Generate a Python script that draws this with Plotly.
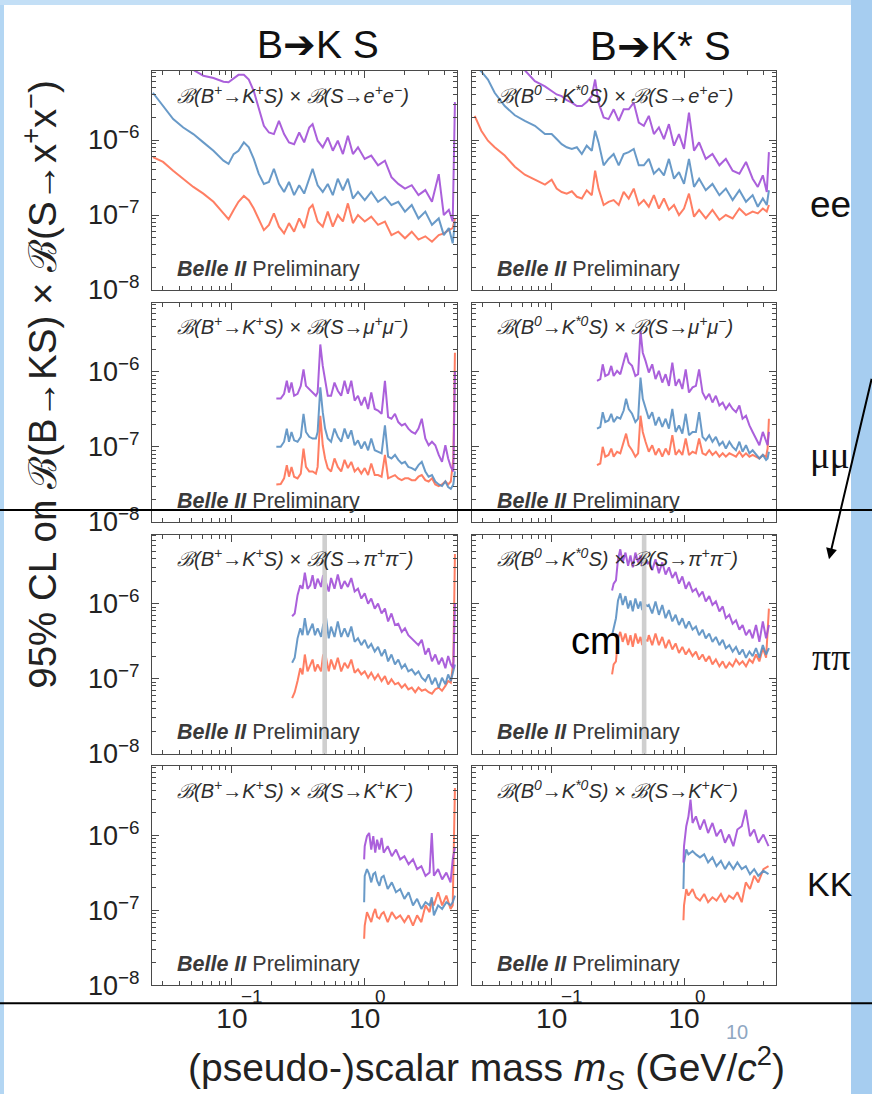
import plotly.graph_objects as go

W, H = 872, 1109

# ---------------- 95% CL upper limits vs. scalar mass (GeV/c^2) ----------------
# three curves per channel: purple (weakest), blue, red (strongest)

# B -> K S, S -> e+ e-
m_ee_K = [0.0254, 0.0303, 0.0361, 0.0430, 0.0512, 0.0609, 0.0726, 0.0864, 0.0943, 0.103,
          0.112, 0.123, 0.134, 0.146, 0.159, 0.174, 0.190, 0.207, 0.226, 0.247,
          0.269, 0.294, 0.321, 0.350, 0.382, 0.405, 0.442, 0.483, 0.527, 0.575,
          0.627, 0.685, 0.747, 0.815, 0.890, 1.00, 1.12, 1.26, 1.42, 1.59,
          1.79, 2.01, 2.26, 2.54, 2.86, 3.21, 3.61, 3.94, 4.30, 4.60, 4.78]
ee_K_purple = [1.6e-5, 1.4e-5, 1.25e-5, 1.1e-5, 8.6e-6, 7.2e-6, 6.7e-6, 6.0e-6, 5.9e-6, 6.7e-6,
               7.4e-6, 7.4e-6, 6.4e-6, 4.5e-6, 2.57e-6, 1.55e-6, 1.26e-6, 1.2e-6, 1.8e-6, 1.2e-6,
               9.3e-7, 8.8e-7, 1.26e-6, 9.3e-7, 1.47e-6, 1.63e-6, 9.8e-7, 8.0e-7, 1.08e-6, 7.2e-7,
               9.8e-7, 6.5e-7, 1.14e-6, 6.5e-7, 8.0e-7, 5.6e-7, 6.2e-7, 4.6e-7, 5.3e-7, 3.2e-7,
               2.6e-7, 2.25e-7, 2.5e-7, 1.84e-7, 2.15e-7, 1.5e-7, 3.5e-7, 1.0e-7, 1.17e-7, 8.2e-8, 3.2e-6]
ee_K_blue = [4.27e-6, 2.84e-6, 1.9e-6, 1.47e-6, 1.2e-6, 9.3e-7, 7.2e-7, 5.3e-7, 4.8e-7, 6.5e-7,
             7.2e-7, 9.3e-7, 8.0e-7, 5.6e-7, 3.56e-7, 2.6e-7, 2.76e-7, 4.14e-7, 2.6e-7, 2.03e-7,
             2.76e-7, 1.84e-7, 2.49e-7, 1.93e-7, 3.05e-7, 4.14e-7, 2.49e-7, 2.03e-7, 2.6e-7, 1.84e-7,
             3.05e-7, 2.14e-7, 3.05e-7, 1.66e-7, 2.03e-7, 1.58e-7, 2.03e-7, 1.5e-7, 1.75e-7, 1.36e-7,
             1.5e-7, 1.11e-7, 1.36e-7, 9.0e-8, 1.11e-7, 7.4e-8, 9.0e-8, 5.4e-8, 6.7e-8, 4.2e-8, 8.2e-8]
ee_K_red = [5.9e-7, 5.1e-7, 3.9e-7, 3.05e-7, 2.37e-7, 1.93e-7, 1.5e-7, 1.05e-7, 8.8e-8, 1.17e-7,
            1.5e-7, 1.8e-7, 1.58e-7, 1.22e-7, 9.0e-8, 6.3e-8, 7.4e-8, 1.05e-7, 7.0e-8, 5.7e-8,
            7.8e-8, 6.0e-8, 9.0e-8, 6.7e-8, 1.22e-7, 1.36e-7, 8.2e-8, 7.0e-8, 1.11e-7, 7.0e-8,
            1.0e-7, 8.2e-8, 1.43e-7, 7.8e-8, 1.0e-7, 8.2e-8, 9.5e-8, 7.4e-8, 8.2e-8, 5.4e-8,
            6.0e-8, 4.9e-8, 6.0e-8, 4.7e-8, 5.2e-8, 4.4e-8, 5.4e-8, 5.7e-8, 6.3e-8, 6.7e-8, 9.0e-8]

# B -> K* S, S -> e+ e-
m_ee_Ks = [0.0262, 0.0294, 0.0330, 0.0371, 0.0442, 0.0527, 0.0627, 0.0747, 0.0890, 0.100,
           0.109, 0.119, 0.130, 0.142, 0.155, 0.169, 0.184, 0.201, 0.213, 0.226,
           0.247, 0.269, 0.294, 0.321, 0.350, 0.382, 0.417, 0.455, 0.497, 0.542,
           0.592, 0.646, 0.705, 0.769, 0.840, 0.916, 1.00, 1.09, 1.19, 1.30,
           1.46, 1.64, 1.85, 2.07, 2.33, 2.62, 2.94, 3.30, 3.61, 3.94, 4.22, 4.38]
ee_Ks_purple = [2.0e-5, 1.8e-5, 1.6e-5, 1.4e-5, 1.2e-5, 1.0e-5, 8.5e-6, 6.1e-6, 5.2e-6, 4.5e-6,
                4.05e-6, 3.85e-6, 3.4e-6, 3.15e-6, 2.84e-6, 2.84e-6, 3.2e-6, 3.85e-6, 6.4e-6, 3.15e-6,
                2.0e-6, 1.9e-6, 2.57e-6, 1.8e-6, 2.57e-6, 2.57e-6, 3.15e-6, 1.71e-6, 1.55e-6, 2.1e-6,
                1.2e-6, 1.47e-6, 1.03e-6, 1.63e-6, 8.4e-7, 1.2e-6, 7.6e-7, 2.32e-6, 7.2e-7, 9.3e-7,
                5.6e-7, 6.5e-7, 4.6e-7, 5.6e-7, 3.9e-7, 3.56e-7, 5.1e-7, 3.05e-7, 2.37e-7, 3.38e-7, 2.03e-7, 6.9e-7]
ee_Ks_blue = [1.0e-5, 8.2e-6, 6.4e-6, 4.27e-6, 2.84e-6, 2.14e-6, 1.8e-6, 1.55e-6, 1.2e-6, 1.2e-6,
              1.03e-6, 8.8e-7, 8.0e-7, 7.6e-7, 8.0e-7, 6.5e-7, 8.4e-7, 7.2e-7, 1.33e-6, 9.3e-7,
              4.6e-7, 5.6e-7, 6.5e-7, 4.6e-7, 6.5e-7, 6.9e-7, 7.6e-7, 4.6e-7, 4.6e-7, 5.6e-7,
              3.56e-7, 4.14e-7, 3.38e-7, 5.6e-7, 3.05e-7, 3.74e-7, 2.6e-7, 5.6e-7, 2.37e-7, 3.05e-7,
              2.14e-7, 2.6e-7, 1.84e-7, 2.25e-7, 1.58e-7, 2.14e-7, 1.5e-7, 1.84e-7, 1.29e-7, 1.66e-7, 1.36e-7, 2.14e-7]
ee_Ks_red = [2.1e-6, 1.33e-6, 9.8e-7, 8.0e-7, 6.2e-7, 4.4e-7, 3.45e-7, 3.0e-7, 2.55e-7, 2.95e-7,
             2.25e-7, 2.03e-7, 1.93e-7, 2.07e-7, 1.75e-7, 1.66e-7, 2.14e-7, 1.84e-7, 3.9e-7, 2.25e-7,
             1.36e-7, 1.5e-7, 1.58e-7, 1.36e-7, 2.03e-7, 1.66e-7, 2.25e-7, 1.36e-7, 1.58e-7, 1.29e-7,
             1.84e-7, 1.22e-7, 1.66e-7, 1.17e-7, 1.36e-7, 1.0e-7, 1.22e-7, 1.93e-7, 9.5e-8, 1.17e-7,
             9.0e-8, 1.17e-7, 8.6e-8, 1.0e-7, 9.0e-8, 1.22e-7, 1.0e-7, 1.11e-7, 1.05e-7, 1.22e-7, 1.11e-7, 1.36e-7]

# B -> K S, S -> mu+ mu-
m_mm_K = [0.216, 0.233, 0.247, 0.259, 0.269, 0.281, 0.294, 0.312, 0.330, 0.346,
          0.361, 0.382, 0.405, 0.429, 0.442, 0.463, 0.483, 0.503, 0.527, 0.558,
          0.592, 0.627, 0.665, 0.705, 0.747, 0.792, 0.840, 0.890, 0.943, 1.00,
          1.06, 1.12, 1.19, 1.26, 1.34, 1.42, 1.50, 1.59, 1.69, 1.79,
          1.90, 2.01, 2.13, 2.26, 2.40, 2.54, 2.69, 2.86, 3.03, 3.21,
          3.40, 3.61, 3.82, 4.05, 4.25, 4.45, 4.65, 4.78]
mm_K_purple = [4.4e-7, 4.4e-7, 5.1e-7, 7.6e-7, 5.3e-7, 7.2e-7, 4.8e-7, 5.1e-7, 6.5e-7, 1.08e-6,
               6.5e-7, 5.9e-7, 5.3e-7, 4.8e-7, 5.3e-7, 2.32e-6, 1.2e-6, 7.6e-7, 4.8e-7, 4.8e-7,
               7.2e-7, 5.6e-7, 4.8e-7, 7.6e-7, 5.1e-7, 7.6e-7, 4.14e-7, 4.8e-7, 3.56e-7, 4.6e-7,
               3.2e-7, 5.3e-7, 3.2e-7, 3.05e-7, 2.76e-7, 7.6e-7, 2.49e-7, 2.37e-7, 2.76e-7, 2.14e-7,
               1.93e-7, 2.03e-7, 1.75e-7, 1.58e-7, 1.5e-7, 1.75e-7, 2.37e-7, 1.29e-7, 1.05e-7, 1.17e-7,
               1.05e-7, 7.8e-8, 6.3e-8, 1.05e-7, 7.0e-8, 5.4e-8, 4.7e-8, 1.0e-6]
mm_K_blue = [1.0e-7, 1.0e-7, 1.17e-7, 1.75e-7, 1.17e-7, 1.58e-7, 1.22e-7, 1.17e-7, 1.36e-7, 2.76e-7,
             1.58e-7, 1.36e-7, 1.29e-7, 1.29e-7, 1.58e-7, 6.2e-7, 2.9e-7, 1.75e-7, 1.29e-7, 1.17e-7,
             1.75e-7, 1.36e-7, 1.17e-7, 1.75e-7, 1.29e-7, 1.66e-7, 1.05e-7, 1.22e-7, 9.5e-8, 1.17e-7,
             9.0e-8, 1.29e-7, 9.0e-8, 8.6e-8, 8.2e-8, 1.93e-7, 7.4e-8, 7.0e-8, 7.8e-8, 6.7e-8,
             6.0e-8, 6.3e-8, 5.4e-8, 5.2e-8, 4.9e-8, 5.7e-8, 6.3e-8, 4.7e-8, 4.0e-8, 4.2e-8,
             3.45e-8, 3.15e-8, 3.0e-8, 3.45e-8, 2.9e-8, 2.75e-8, 3.15e-8, 4.7e-8]
mm_K_red = [3.15e-8, 3.2e-8, 3.8e-8, 5.7e-8, 4.0e-8, 5.4e-8, 4.0e-8, 3.8e-8, 4.4e-8, 9.5e-8,
            5.4e-8, 4.7e-8, 4.7e-8, 4.4e-8, 5.4e-8, 2.6e-7, 1.05e-7, 7.0e-8, 5.2e-8, 4.7e-8,
            7.0e-8, 5.4e-8, 4.7e-8, 6.7e-8, 5.2e-8, 6.3e-8, 4.7e-8, 5.2e-8, 4.4e-8, 5.2e-8,
            4.2e-8, 6.0e-8, 4.2e-8, 4.2e-8, 4.0e-8, 7.8e-8, 3.8e-8, 4.0e-8, 4.2e-8, 3.8e-8,
            3.6e-8, 3.8e-8, 3.8e-8, 3.6e-8, 3.6e-8, 4.0e-8, 4.2e-8, 3.6e-8, 3.45e-8, 3.8e-8,
            3.15e-8, 3.0e-8, 3.15e-8, 3.45e-8, 3.15e-8, 3.45e-8, 7.0e-8, 1.8e-6]

# B -> K* S, S -> mu+ mu-
m_mm_Ks = [0.220, 0.233, 0.243, 0.254, 0.269, 0.282, 0.294, 0.312, 0.330, 0.350,
           0.365, 0.382, 0.405, 0.429, 0.450, 0.469, 0.488, 0.512, 0.542, 0.575,
           0.609, 0.646, 0.685, 0.726, 0.769, 0.816, 0.864, 0.916, 0.971, 1.03,
           1.09, 1.16, 1.23, 1.30, 1.38, 1.46, 1.55, 1.64, 1.74, 1.85,
           1.96, 2.07, 2.20, 2.33, 2.47, 2.62, 2.77, 2.94, 3.12, 3.30,
           3.50, 3.71, 3.94, 4.17, 4.28, 4.38]
mm_Ks_purple = [7.6e-7, 8.0e-7, 1.26e-6, 8.8e-7, 9.3e-7, 1.2e-6, 8.8e-7, 1.03e-6, 9.3e-7, 1.33e-6,
                1.8e-6, 1.33e-6, 1.2e-6, 8.8e-7, 9.3e-7, 3.48e-6, 1.8e-6, 1.4e-6, 9.8e-7, 1.26e-6,
                8.0e-7, 1.03e-6, 7.2e-7, 9.3e-7, 6.5e-7, 1.33e-6, 6.5e-7, 8.0e-7, 5.9e-7, 1.08e-6,
                5.3e-7, 6.2e-7, 6.5e-7, 1.08e-6, 5.3e-7, 4.37e-7, 5.1e-7, 3.9e-7, 4.8e-7, 3.56e-7,
                3.9e-7, 3.2e-7, 3.74e-7, 3.2e-7, 2.9e-7, 3.56e-7, 2.37e-7, 2.6e-7, 1.93e-7, 1.58e-7,
                1.29e-7, 1.05e-7, 1.58e-7, 1.17e-7, 1.05e-7, 1.58e-7]
mm_Ks_blue = [1.75e-7, 1.84e-7, 2.9e-7, 2.14e-7, 2.25e-7, 2.76e-7, 2.14e-7, 2.49e-7, 2.37e-7, 3.05e-7,
              4.37e-7, 3.2e-7, 2.76e-7, 2.14e-7, 2.37e-7, 8.4e-7, 4.37e-7, 3.2e-7, 2.37e-7, 2.9e-7,
              1.93e-7, 2.49e-7, 1.84e-7, 2.37e-7, 1.75e-7, 3.2e-7, 1.58e-7, 1.93e-7, 1.5e-7, 2.76e-7,
              1.43e-7, 1.58e-7, 1.58e-7, 2.9e-7, 1.36e-7, 1.22e-7, 1.43e-7, 1.17e-7, 1.36e-7, 1.05e-7,
              1.17e-7, 9.5e-8, 1.17e-7, 1.0e-7, 9.0e-8, 1.17e-7, 8.6e-8, 1.05e-7, 8.2e-8, 9.0e-8,
              7.8e-8, 7.0e-8, 7.8e-8, 6.7e-8, 7.0e-8, 8.6e-8]
mm_Ks_red = [5.7e-8, 6.0e-8, 1.0e-7, 7.4e-8, 7.8e-8, 9.5e-8, 7.4e-8, 8.6e-8, 8.2e-8, 1.17e-7,
             1.5e-7, 1.05e-7, 9.0e-8, 7.4e-8, 8.2e-8, 2.6e-7, 1.58e-7, 1.17e-7, 8.6e-8, 1.05e-7,
             7.8e-8, 9.5e-8, 7.4e-8, 9.5e-8, 7.8e-8, 1.43e-7, 7.8e-8, 9.0e-8, 7.8e-8, 1.29e-7,
             7.8e-8, 8.6e-8, 8.2e-8, 1.29e-7, 8.2e-8, 7.8e-8, 9.0e-8, 7.8e-8, 8.6e-8, 7.4e-8,
             8.2e-8, 7.4e-8, 8.2e-8, 7.8e-8, 7.4e-8, 8.6e-8, 7.4e-8, 8.2e-8, 7.4e-8, 7.8e-8,
             7.4e-8, 7.0e-8, 7.8e-8, 7.4e-8, 9.5e-8, 2.37e-7]

# B -> K S, S -> pi+ pi-
m_pp_K = [0.284, 0.297, 0.312, 0.327, 0.340, 0.354, 0.371, 0.389, 0.405, 0.422,
          0.442, 0.469, 0.486, 0.512, 0.536, 0.558, 0.592, 0.627, 0.665, 0.705,
          0.747, 0.792, 0.840, 0.890, 0.943, 1.00, 1.06, 1.12, 1.19, 1.26,
          1.34, 1.42, 1.50, 1.59, 1.69, 1.79, 1.90, 2.01, 2.13, 2.26,
          2.40, 2.54, 2.69, 2.86, 3.03, 3.21, 3.40, 3.61, 3.82, 4.05,
          4.25, 4.45, 4.65, 4.78]
pp_K_purple = [6.8e-7, 7.4e-7, 1.3e-6, 1.76e-6, 1.58e-6, 2.6e-6, 1.58e-6, 1.76e-6, 2.4e-6, 1.58e-6,
               2.15e-6, 1.67e-6, 2.4e-6, 1.9e-6, 1.45e-6, 2.2e-6, 1.58e-6, 2.45e-6, 1.58e-6, 2.0e-6,
               1.67e-6, 2.2e-6, 1.45e-6, 1.58e-6, 1.17e-6, 1.37e-6, 1.0e-6, 1.17e-6, 8.6e-7, 1.0e-6,
               7.4e-7, 8.6e-7, 5.8e-7, 7.4e-7, 5.2e-7, 5.4e-7, 4.2e-7, 4.7e-7, 3.8e-7, 3.45e-7,
               3.1e-7, 2.8e-7, 3.3e-7, 2.1e-7, 2.55e-7, 1.7e-7, 2.1e-7, 1.55e-7, 1.9e-7, 1.38e-7,
               2.0e-7, 1.55e-7, 1.38e-7, 1.0e-6]
pp_K_blue = [1.63e-7, 1.9e-7, 3.45e-7, 4.7e-7, 3.8e-7, 6.4e-7, 3.8e-7, 4.7e-7, 5.4e-7, 3.8e-7,
             4.7e-7, 3.6e-7, 5.2e-7, 6.4e-7, 3.45e-7, 4.95e-7, 3.6e-7, 5.8e-7, 3.6e-7, 4.7e-7,
             3.6e-7, 4.95e-7, 3.1e-7, 3.45e-7, 2.8e-7, 3.3e-7, 2.55e-7, 2.9e-7, 2.3e-7, 2.65e-7,
             2.0e-7, 2.45e-7, 1.7e-7, 2.1e-7, 1.55e-7, 1.8e-7, 1.38e-7, 1.55e-7, 1.25e-7, 1.33e-7,
             1.14e-7, 1.25e-7, 1.03e-7, 9.3e-8, 1.14e-7, 8.4e-8, 1.03e-7, 7.6e-8, 1.03e-7, 8.4e-8,
             1.14e-7, 9.3e-8, 1.25e-7, 1.55e-7]
pp_K_red = [5.5e-8, 6.6e-8, 9.3e-8, 1.38e-7, 1.14e-7, 2.1e-7, 1.25e-7, 1.55e-7, 1.8e-7, 1.25e-7,
            1.55e-7, 1.25e-7, 2.1e-7, 1.9e-7, 1.25e-7, 1.8e-7, 1.33e-7, 1.9e-7, 1.25e-7, 1.63e-7,
            1.38e-7, 1.8e-7, 1.2e-7, 1.33e-7, 1.14e-7, 1.25e-7, 1.03e-7, 1.2e-7, 9.8e-8, 1.14e-7,
            9.3e-8, 1.08e-7, 8.4e-8, 9.8e-8, 8.4e-8, 8.8e-8, 7.6e-8, 8.4e-8, 7.2e-8, 7.6e-8,
            6.6e-8, 7.6e-8, 6.9e-8, 7.2e-8, 6.6e-8, 6.3e-8, 7.2e-8, 7.6e-8, 6.9e-8, 8.0e-8,
            9.3e-8, 8.8e-8, 1.7e-7, 4.6e-6]

# B -> K* S, S -> pi+ pi-
m_pp_Ks = [0.286, 0.294, 0.306, 0.317, 0.330, 0.344, 0.361, 0.378, 0.394, 0.410,
           0.429, 0.450, 0.469, 0.483, 0.506, 0.530, 0.542, 0.575, 0.609, 0.646,
           0.685, 0.726, 0.769, 0.816, 0.864, 0.916, 0.971, 1.03, 1.09, 1.16,
           1.23, 1.30, 1.38, 1.46, 1.55, 1.64, 1.74, 1.85, 1.96, 2.07,
           2.20, 2.33, 2.47, 2.62, 2.77, 2.94, 3.12, 3.30, 3.50, 3.71,
           3.94, 4.17, 4.38]
pp_Ks_purple = [1.5e-6, 1.85e-6, 2.05e-6, 3.9e-6, 5.3e-6, 3.55e-6, 4.8e-6, 3.2e-6, 4.4e-6, 3.05e-6,
                4.8e-6, 3.55e-6, 4.4e-6, 3.2e-6, 3.8e-6, 3.45e-6, 3.55e-6, 2.8e-6, 3.9e-6, 2.55e-6,
                3.55e-6, 2.45e-6, 3.05e-6, 2.2e-6, 2.65e-6, 1.85e-6, 2.3e-6, 1.58e-6, 1.95e-6, 1.45e-6,
                1.58e-6, 1.26e-6, 1.45e-6, 1.07e-6, 1.26e-6, 9.6e-7, 1.07e-6, 7.9e-7, 9.2e-7, 6.4e-7,
                7.1e-7, 5.4e-7, 6.0e-7, 4.5e-7, 5.2e-7, 3.8e-7, 4.5e-7, 3.45e-7, 5.2e-7, 3.1e-7,
                5.8e-7, 3.45e-7, 5.2e-7]
pp_Ks_blue = [3.8e-7, 4.7e-7, 6.4e-7, 1.1e-6, 1.37e-6, 9.6e-7, 1.26e-6, 8.6e-7, 1.1e-6, 7.9e-7,
              1.17e-6, 8.6e-7, 1.07e-6, 8.2e-7, 9.8e-7, 9.3e-7, 9.6e-7, 7.4e-7, 1.07e-6, 7.1e-7,
              9.6e-7, 6.4e-7, 8.2e-7, 5.8e-7, 7.1e-7, 5.2e-7, 6.4e-7, 4.7e-7, 5.8e-7, 4.5e-7,
              4.95e-7, 3.8e-7, 4.5e-7, 3.45e-7, 4.0e-7, 3.1e-7, 3.6e-7, 2.8e-7, 3.3e-7, 2.55e-7,
              2.8e-7, 2.3e-7, 2.65e-7, 2.1e-7, 2.45e-7, 1.9e-7, 2.3e-7, 2.0e-7, 2.55e-7, 1.9e-7,
              2.8e-7, 2.1e-7, 2.55e-7]
pp_Ks_red = [1.14e-7, 1.55e-7, 1.7e-7, 3.45e-7, 4.2e-7, 3.1e-7, 4.0e-7, 2.8e-7, 3.8e-7, 2.65e-7,
             4.0e-7, 2.95e-7, 3.6e-7, 2.8e-7, 3.3e-7, 3.2e-7, 3.8e-7, 2.8e-7, 4.0e-7, 2.8e-7,
             3.6e-7, 2.55e-7, 3.3e-7, 2.45e-7, 2.95e-7, 2.2e-7, 2.65e-7, 2.1e-7, 2.45e-7, 2.0e-7,
             2.3e-7, 1.8e-7, 2.1e-7, 1.7e-7, 2.0e-7, 1.55e-7, 1.8e-7, 1.46e-7, 1.7e-7, 1.38e-7,
             1.63e-7, 1.46e-7, 1.8e-7, 1.55e-7, 1.7e-7, 1.46e-7, 1.8e-7, 1.63e-7, 2.1e-7, 1.7e-7,
             2.55e-7, 1.9e-7, 8.6e-7]

# B -> K S, S -> K+ K-
m_KK_K = [0.990, 1.00, 1.04, 1.08, 1.12, 1.16, 1.20, 1.24, 1.29, 1.34,
          1.39, 1.49, 1.60, 1.72, 1.85, 1.99, 2.14, 2.31, 2.48, 2.67,
          2.87, 3.08, 3.20, 3.32, 3.57, 3.83, 4.12, 4.43, 4.60, 4.78]
KK_K_purple = [4.8e-7, 7.2e-7, 9.8e-7, 1.08e-6, 6.5e-7, 9.8e-7, 5.9e-7, 8.8e-7, 6.5e-7, 9.3e-7,
               5.9e-7, 7.2e-7, 5.3e-7, 6.5e-7, 4.8e-7, 5.3e-7, 4.14e-7, 4.8e-7, 3.56e-7, 3.9e-7,
               2.9e-7, 3.2e-7, 1.08e-6, 2.9e-7, 3.56e-7, 2.6e-7, 3.2e-7, 2.37e-7, 4.8e-7, 7.0e-7]
KK_K_blue = [1.29e-7, 2.9e-7, 3.56e-7, 3.05e-7, 2.37e-7, 3.05e-7, 3.2e-7, 2.49e-7, 2.14e-7, 2.76e-7,
             2.9e-7, 1.93e-7, 2.37e-7, 1.75e-7, 1.93e-7, 1.43e-7, 1.75e-7, 1.17e-7, 1.43e-7, 1.05e-7,
             1.29e-7, 1.17e-7, 1.5e-7, 8.6e-8, 1.17e-7, 1.05e-7, 1.29e-7, 1.17e-7, 1.29e-7, 1.58e-7]
KK_K_red = [4.2e-8, 6.3e-8, 9.5e-8, 8.2e-8, 7.0e-8, 9.0e-8, 1.05e-7, 8.2e-8, 7.8e-8, 9.0e-8,
            9.5e-8, 7.0e-8, 9.5e-8, 7.8e-8, 8.6e-8, 7.0e-8, 8.6e-8, 6.3e-8, 8.6e-8, 7.0e-8,
            1.17e-7, 9.5e-8, 1.36e-7, 1.17e-7, 1.75e-7, 1.17e-7, 1.58e-7, 1.05e-7, 1.17e-7, 4.3e-6]

# B -> K* S, S -> K+ K-
m_KK_Ks = [0.990, 1.00, 1.04, 1.08, 1.12, 1.16, 1.23, 1.32, 1.42, 1.52,
           1.64, 1.76, 1.90, 2.04, 2.19, 2.36, 2.53, 2.73, 2.93, 3.15,
           3.39, 3.64, 3.98, 4.35]
KK_Ks_purple = [4.37e-7, 7.2e-7, 1.33e-6, 1.8e-6, 3.0e-6, 1.47e-6, 1.8e-6, 1.2e-6, 1.63e-6, 1.08e-6,
                1.47e-6, 9.8e-7, 1.2e-6, 8.0e-7, 1.03e-6, 7.2e-7, 1.2e-6, 1.33e-6, 2.2e-6, 9.8e-7,
                1.2e-6, 8.0e-7, 1.03e-6, 7.2e-7]
KK_Ks_blue = [1.93e-7, 4.37e-7, 6.5e-7, 5.6e-7, 5.9e-7, 6.2e-7, 5.6e-7, 5.1e-7, 5.6e-7, 4.37e-7,
              5.1e-7, 3.9e-7, 4.6e-7, 3.56e-7, 4.37e-7, 3.56e-7, 4.37e-7, 3.56e-7, 3.9e-7, 3.05e-7,
              3.56e-7, 2.9e-7, 3.38e-7, 3.05e-7]
KK_Ks_red = [7.4e-8, 1.17e-7, 1.93e-7, 1.58e-7, 1.75e-7, 1.93e-7, 1.5e-7, 1.36e-7, 1.66e-7, 1.29e-7,
             1.5e-7, 1.36e-7, 1.66e-7, 1.29e-7, 1.58e-7, 1.43e-7, 1.75e-7, 1.29e-7, 2.37e-7, 1.93e-7,
             2.9e-7, 2.37e-7, 3.56e-7, 3.9e-7]

# K_S veto window in the pi+ pi- channel (GeV)
KS_VETO = [0.48, 0.52]

PARENT = ["ℬ(B<sup>+</sup>→K<sup>+</sup>S)", "ℬ(B<sup>0</sup>→K<sup>*0</sup>S)"]
FINAL = ["e<sup>+</sup>e<sup>−</sup>", "μ<sup>+</sup>μ<sup>−</sup>",
         "π<sup>+</sup>π<sup>−</sup>", "K<sup>+</sup>K<sup>−</sup>"]

panels = [
    (0, 0, m_ee_K, ee_K_purple, ee_K_blue, ee_K_red),
    (0, 1, m_ee_Ks, ee_Ks_purple, ee_Ks_blue, ee_Ks_red),
    (1, 0, m_mm_K, mm_K_purple, mm_K_blue, mm_K_red),
    (1, 1, m_mm_Ks, mm_Ks_purple, mm_Ks_blue, mm_Ks_red),
    (2, 0, m_pp_K, pp_K_purple, pp_K_blue, pp_K_red),
    (2, 1, m_pp_Ks, pp_Ks_purple, pp_Ks_blue, pp_Ks_red),
    (3, 0, m_KK_K, KK_K_purple, KK_K_blue, KK_K_red),
    (3, 1, m_KK_Ks, KK_Ks_purple, KK_Ks_blue, KK_Ks_red),
]

PURPLE, BLUE, RED = "#a24fd8", "#5990c3", "#ff7153"

# ---------------- geometry (pixels) ----------------
COLS = [(152, 457), (472, 776)]
ROW_TOP = [72, 307, 542, 777]
ROW_H = 222
XRANGE = [-1.602, 0.695]
YRANGE = [-8, -5.08]


def fx(px):
    return px / W


def fy(py):
    return 1 - py / H


# x decades: mantissa "10" as the axis tick label, exponent set above it
x_major = [0.1, 1.0]
x_major_text = ["10", "10"]
x_exponent = [(-1, "−1", 20), (0, "0", 16)]  # (log10 position, exponent, pixel offset)
x_minor = [d * 0.01 for d in range(3, 10)] + [d * 0.1 for d in range(2, 10)] + [2.0, 3.0, 4.0]
y_major = [1e-8, 1e-7, 1e-6]
y_major_text = ["10<sup>−8</sup>", "10<sup>−7</sup>", "10<sup>−6</sup>"]
y_minor = [d * 10.0 ** e for e in (-8, -7, -6) for d in range(2, 10)]

FRAME = "#4a4a4a"
TXT = "Liberation Sans, Arial"
fig = go.Figure()
layout = dict(
    width=W, height=H, autosize=False,
    margin=dict(l=0, r=0, t=0, b=0),
    paper_bgcolor="white", plot_bgcolor="white",
    showlegend=False,
)
shapes, annotations = [], []

# blue slide border around the white page
for (x0, x1, y0, y1, col) in [(0, 4, 0, H, "#b3d6f3"), (0, W, 0, 5, "#c3dff6"), (851, W, 0, H, "#a6cdf0")]:
    shapes.append(dict(type="rect", xref="paper", yref="paper", x0=fx(x0), x1=fx(x1),
                       y0=fy(y1), y1=fy(y0), fillcolor=col, line=dict(width=0), layer="below"))

for k, (r, c, m, yp, yb, yr) in enumerate(panels, start=1):
    xs = "" if k == 1 else str(k)
    x0, x1 = COLS[c]
    top = ROW_TOP[r]
    bottom = top + ROW_H
    layout["xaxis" + xs] = dict(
        type="log", range=XRANGE, domain=[fx(x0), fx(x1)], anchor="y" + xs,
        showgrid=False, zeroline=False, showline=True, linecolor=FRAME, linewidth=1,
        mirror="allticks", ticks="inside", ticklen=7, tickwidth=1, tickcolor=FRAME,
        tickmode="array", tickvals=x_major, ticktext=x_major_text,
        showticklabels=(r == 3), ticklabelstandoff=8,
        tickfont=dict(family=TXT, size=28, color="#222"),
        minor=dict(tickmode="array", tickvals=x_minor, ticks="inside", ticklen=4,
                   tickwidth=1, tickcolor=FRAME, showgrid=False),
    )
    layout["yaxis" + xs] = dict(
        type="log", range=YRANGE, domain=[fy(bottom), fy(top)], anchor="x" + xs,
        showgrid=False, zeroline=False, showline=True, linecolor=FRAME, linewidth=1,
        mirror="allticks", ticks="inside", ticklen=7, tickwidth=1, tickcolor=FRAME,
        tickmode="array", tickvals=y_major, ticktext=y_major_text,
        showticklabels=(c == 0), ticklabelstandoff=6,
        tickfont=dict(family=TXT, size=27, color="#222"),
        minor=dict(tickmode="array", tickvals=y_minor, ticks="inside", ticklen=4,
                   tickwidth=1, tickcolor=FRAME, showgrid=False),
    )
    for vals, col in ((yr, RED), (yb, BLUE), (yp, PURPLE)):
        fig.add_trace(go.Scatter(x=m, y=vals, mode="lines", xaxis="x" + xs, yaxis="y" + xs,
                                 line=dict(color=col, width=2.0), opacity=0.9,
                                 hoverinfo="skip"))
    if r == 2:
        shapes.append(dict(type="rect", xref="x" + xs, yref="y" + xs + " domain",
                           x0=KS_VETO[0], x1=KS_VETO[1], y0=0, y1=1,
                           fillcolor="#cfcfcf", line=dict(width=0), layer="above"))
    if r == 3:
        for lx, txt, shift in x_exponent:
            annotations.append(dict(xref="x" + xs, yref="paper", x=lx, y=fy(1010), xshift=shift,
                                    text=txt, showarrow=False, xanchor="center", yanchor="middle",
                                    font=dict(family=TXT, size=19, color="#222")))
    annotations.append(dict(
        xref="x" + xs + " domain", yref="y" + xs + " domain", x=0.075, y=0.895,
        xanchor="left", yanchor="middle", showarrow=False,
        text="<i>" + PARENT[c] + " × ℬ(S→" + FINAL[r] + ")</i>",
        font=dict(family=TXT, size=20, color="#2e2e2e")))
    annotations.append(dict(
        xref="x" + xs + " domain", yref="y" + xs + " domain", x=0.075, y=0.097,
        xanchor="left", yanchor="middle", showarrow=False,
        text="<b><i>Belle II</i></b> Preliminary",
        font=dict(family=TXT, size=21.5, color="#3a3a3a")))

# horizontal separators across the slide
for py in (517, 1017):
    shapes.append(dict(type="line", xref="paper", yref="paper", x0=0, x1=1, y0=fy(py), y1=fy(py),
                       line=dict(color="black", width=2), layer="above"))

slide_text = [
    dict(x=fx(318), y=fy(45), text="B➔K S", font=dict(family=TXT, size=39, color="#111")),
    dict(x=fx(660), y=fy(47), text="B➔K* S", font=dict(family=TXT, size=40, color="#111")),
    dict(x=fx(40), y=fy(390), textangle=-90,
         text="95% CL on ℬ(B→KS) × ℬ(S→x<sup>+</sup>x<sup>−</sup>)",
         font=dict(family=TXT, size=38.5, color="#222")),
    dict(x=fx(486), y=fy(1083),
         text="(pseudo-)scalar mass <i>m<sub>S</sub></i> (GeV/<i>c</i><sup>2</sup>)",
         font=dict(family=TXT, size=39, color="#222")),
    dict(x=fx(830), y=fy(207), text="ee", font=dict(family=TXT, size=37, color="#111")),
    dict(x=fx(830), y=fy(462), text="μμ", font=dict(family="Liberation Serif, DejaVu Serif", size=37, color="#111")),
    dict(x=fx(831), y=fy(666), text="ππ", font=dict(family="Liberation Serif, DejaVu Serif", size=38, color="#111")),
    dict(x=fx(830), y=fy(896), text="KK", font=dict(family=TXT, size=34, color="#111")),
    dict(x=fx(596), y=fy(650), text="cm", font=dict(family=TXT, size=38, color="#000")),
    dict(x=fx(737), y=fy(1046), text="10", font=dict(family=TXT, size=20, color="#8fa7c2")),
]
for a in slide_text:
    a.update(xref="paper", yref="paper", showarrow=False, xanchor="center", yanchor="middle")
annotations += slide_text

# arrow coming in from the right edge
annotations.append(dict(xref="paper", yref="paper", x=fx(829), y=fy(567), ax=43, ay=-182,
                        text="", showarrow=True, arrowhead=2, arrowsize=1.1, arrowwidth=2,
                        arrowcolor="black"))

layout["shapes"] = shapes
layout["annotations"] = annotations
fig.update_layout(**layout)
fig.write_html("out.html")
